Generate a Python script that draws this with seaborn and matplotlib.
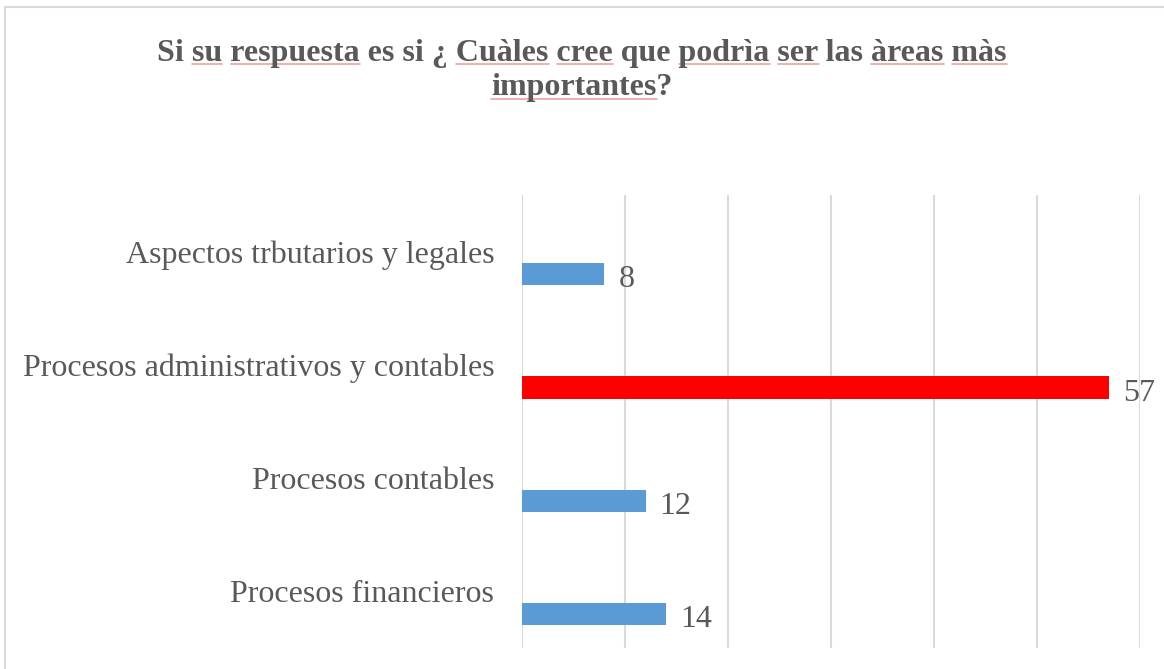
import matplotlib
matplotlib.use("Agg")
import matplotlib.pyplot as plt
from matplotlib.lines import Line2D
import seaborn as sns
import pandas as pd

# Data
categories = [
    "Aspectos trbutarios y legales",
    "Procesos administrativos y contables",
    "Procesos contables",
    "Procesos financieros",
]
values = [8, 57, 12, 14]
bar_colors = ["#5B9BD5", "#FF0000", "#5B9BD5", "#5B9BD5"]

title_lines = [
    "Si su respuesta es si ¿ Cuàles cree que podrìa ser las àreas màs",
    "importantes?",
]
# words marked by the spell checker in the original
marked_words = [
    ["su", "respuesta", "Cuàles", "cree", "podrìa", "ser", "àreas", "màs"],
    ["importantes"],
]

df = pd.DataFrame({"area": categories, "n": values})

sns.set_theme(style="white")
plt.rcParams["font.family"] = ["Liberation Serif", "DejaVu Serif"]

text_color = "#595959"
grid_color = "#D9D9D9"
label_size = 23
title_size = 23

fig = plt.figure(figsize=(11.64, 6.69), dpi=100)
ax = fig.add_axes([522 / 1164, 1 - 648 / 669, (1140 - 522) / 1164, (648 - 195) / 669])

sns.barplot(data=df, y="area", x="n", hue="area", palette=bar_colors,
            order=categories, width=0.195, saturation=1, legend=False, ax=ax)

# bars sit a bit below the category label in the original
for patch in ax.patches:
    patch.set_y(patch.get_y() + 0.2)
    patch.set_edgecolor("none")

ax.set_xlim(0, 60)
ax.set_ylim(3.5, -0.5)
ax.set_xticks(range(0, 61, 10))
ax.xaxis.grid(True, color=grid_color, linewidth=1.5)
ax.set_axisbelow(True)
ax.tick_params(axis="x", labelbottom=False, length=0)
ax.tick_params(axis="y", length=0, pad=20, labelsize=label_size, labelcolor=text_color)
for s in ax.spines.values():
    s.set_visible(False)
ax.set_xlabel("")
ax.set_ylabel("")

# value labels
for i, v in enumerate(values):
    ax.annotate(str(v), xy=(v, i + 0.2), xytext=(10, -4), textcoords="offset points",
                ha="left", va="center", fontsize=label_size, color=text_color)

# title
title_y = [1 - 53 / 669, 1 - 88 / 669]
title_texts = []
for line, y in zip(title_lines, title_y):
    t = fig.text(0.5, y, line, ha="center", va="center", fontsize=title_size,
                 fontweight="bold", color=text_color)
    title_texts.append(t)

# spell-check underline under marked words
fig.canvas.draw()
renderer = fig.canvas.get_renderer()
W = fig.bbox.width
H = fig.bbox.height


def text_width(s):
    tmp = fig.text(0, 0, s, fontsize=title_size, fontweight="bold")
    w = tmp.get_window_extent(renderer).width
    tmp.remove()
    return w


for t, line, words in zip(title_texts, title_lines, marked_words):
    bb = t.get_window_extent(renderer)
    x0 = bb.x0
    base = bb.y0 + 4
    pos = 0
    for w in words:
        idx = line.find(w, pos)
        pos = idx + len(w)
        start = x0 + (text_width(line[:idx]) if idx > 0 else 0)
        end = x0 + text_width(line[:idx + len(w)])
        fig.add_artist(Line2D([start / W, end / W], [base / H, base / H],
                              color="#F2A0A0", linewidth=1.2))

# outer frame (only left and top edges show)
fig.add_artist(Line2D([5 / 1164, 5 / 1164], [0, 1 - 7 / 669], color=grid_color, linewidth=1.5))
fig.add_artist(Line2D([5 / 1164, 1], [1 - 7 / 669, 1 - 7 / 669], color=grid_color, linewidth=1.5))

fig.savefig("out.png", dpi=100)
